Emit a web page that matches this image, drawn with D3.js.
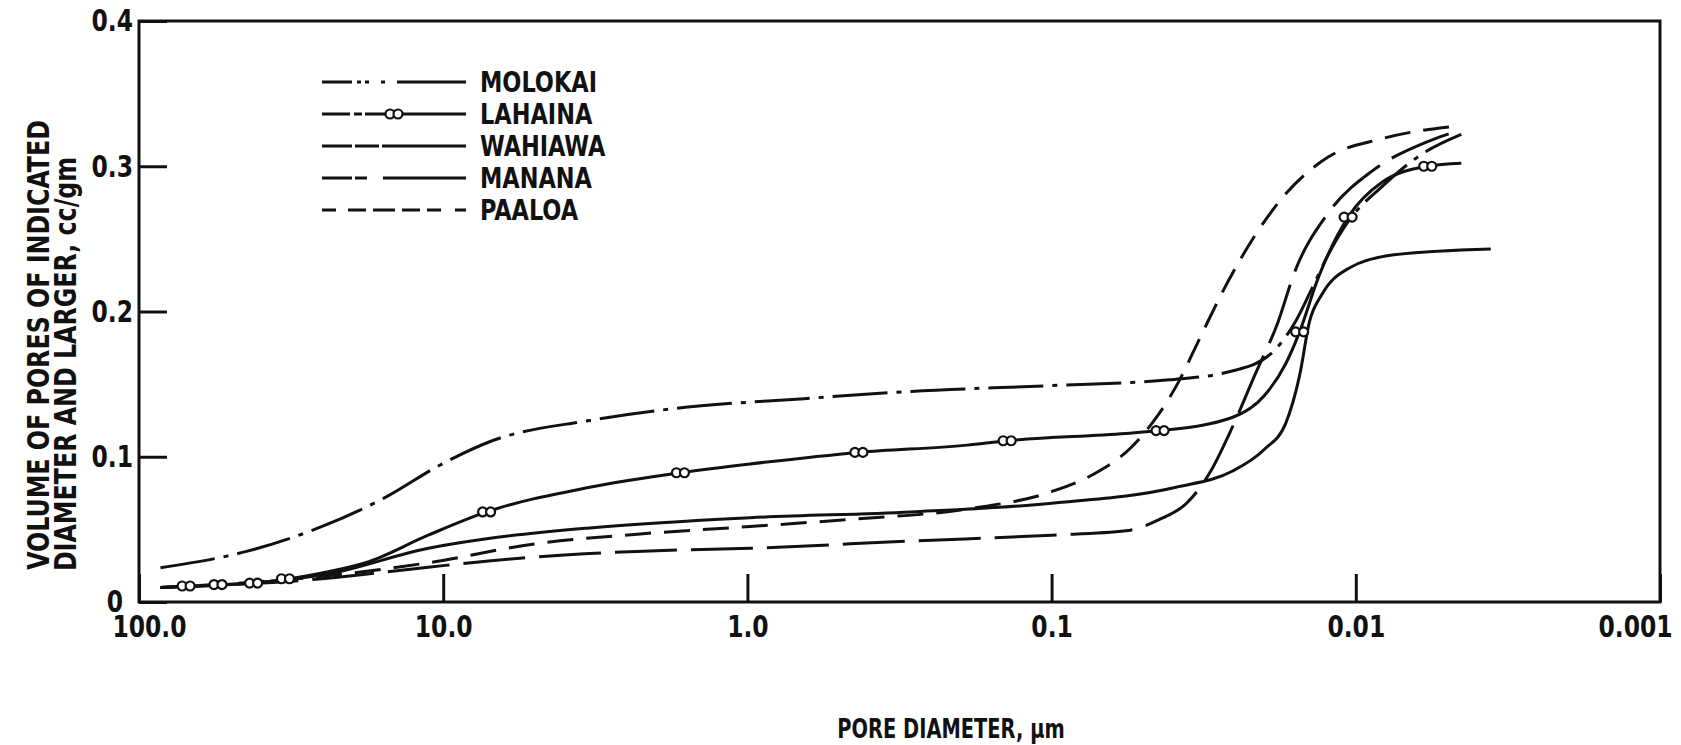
<!DOCTYPE html>
<html>
<head>
<meta charset="utf-8">
<script src="https://cdn.jsdelivr.net/npm/d3@7"></script>
<style>
  body { margin: 0; background: #fff; }
  text { font-family: "DejaVu Sans Condensed", "DejaVu Sans", sans-serif; font-weight: bold; fill: #111; }
</style>
</head>
<body>
<div id="chart"></div>
<script>
// pore diameter (um) vs cumulative pore volume (cc/gm)
const molokai = [[85,0.0236],[44,0.035],[25,0.052],[15.5,0.072],[10.3,0.094],[6.9,0.111],[3.3,0.125],[1.6,0.134],[0.65,0.140],[0.29,0.145],[0.1,0.149],[0.041,0.153],[0.0255,0.159],[0.019,0.171],[0.0158,0.193],[0.014,0.215],[0.0124,0.238],[0.0105,0.263],[0.0082,0.286],[0.006,0.309],[0.0045,0.322]]
const lahaina = [[85,0.010],[38,0.014],[25,0.020],[18,0.027],[11.2,0.046],[7.2,0.062],[3.3,0.079],[1.66,0.089],[0.98,0.095],[0.43,0.103],[0.19,0.108],[0.14,0.111],[0.057,0.116],[0.044,0.118],[0.0255,0.127],[0.020,0.142],[0.017,0.164],[0.0153,0.186],[0.0133,0.223],[0.0106,0.265],[0.0082,0.289],[0.0058,0.300],[0.0045,0.302]]
const lahainaMarks = [[70,0.011],[55,0.012],[42,0.013],[33,0.016],[7.2,0.062],[1.66,0.089],[0.43,0.103],[0.14,0.111],[0.044,0.118],[0.0153,0.186],[0.0106,0.265],[0.0058,0.300]]
const wahiawa = [[85,0.010],[25,0.0185],[11.2,0.037],[7.2,0.0435],[3.3,0.051],[0.98,0.058],[0.29,0.062],[0.1,0.068],[0.039,0.079],[0.0255,0.090],[0.020,0.105],[0.017,0.123],[0.0153,0.156],[0.0142,0.193],[0.0129,0.212],[0.0105,0.230],[0.0075,0.239],[0.0036,0.243]]
const manana = [[85,0.010],[25,0.016],[11.2,0.024],[5,0.031],[2.2,0.035],[0.98,0.037],[0.29,0.042],[0.1,0.046],[0.057,0.049],[0.044,0.057],[0.036,0.068],[0.030,0.090],[0.0255,0.120],[0.0215,0.156],[0.018,0.193],[0.0159,0.227],[0.0124,0.267],[0.0088,0.297],[0.0058,0.317],[0.0045,0.325]]
const paaloa = [[85,0.010],[25,0.0177],[11.2,0.027],[5,0.040],[2.2,0.047],[0.98,0.052],[0.45,0.057],[0.19,0.064],[0.1,0.076],[0.07,0.090],[0.055,0.106],[0.046,0.125],[0.0386,0.150],[0.0325,0.182],[0.0275,0.213],[0.0215,0.252],[0.017,0.281],[0.0124,0.306],[0.0082,0.319],[0.0045,0.328]]

const seriesNames = ["MOLOKAI", "LAHAINA", "WAHIAWA", "MANANA", "PAALOA"]
const xTicks = [100, 10, 1, 0.1, 0.01, 0.001]
const xTickLabels = ["100.0", "10.0", "1.0", "0.1", "0.01", "0.001"]
const yTicks = [0, 0.1, 0.2, 0.3, 0.4]
const yTickLabels = ["0", "0.1", "0.2", "0.3", "0.4"]

const WIDTH = 1681
const HEIGHT = 745
const PLOT = { LEFT: 139, RIGHT: 1660, TOP: 21, BOTTOM: 602 }

const svg = d3.select("#chart").append("svg")
	.attr("width", WIDTH)
	.attr("height", HEIGHT)

// squeeze text horizontally, the original lettering is tall and narrow
function narrow(sel, k) {
	sel.each(function() {
		const w = this.getComputedTextLength()
		d3.select(this)
			.attr("textLength", w * k)
			.attr("lengthAdjust", "spacingAndGlyphs")
	})
}

// scales
const x = d3.scaleLog().domain([100, 0.001]).range([PLOT.LEFT, PLOT.RIGHT])
const y = d3.scaleLinear().domain([0, 0.4]).range([PLOT.BOTTOM, PLOT.TOP])

// frame
svg.append("rect")
	.attr("x", PLOT.LEFT)
	.attr("y", PLOT.TOP)
	.attr("width", PLOT.RIGHT - PLOT.LEFT)
	.attr("height", PLOT.BOTTOM - PLOT.TOP)
	.attr("fill", "none")
	.attr("stroke", "#111")
	.attr("stroke-width", 3)

// axes
const xAxis = svg.append("g")
	.attr("transform", `translate(0, ${PLOT.BOTTOM})`)
	.call(d3.axisBottom(x)
		.tickValues(xTicks)
		.tickSize(-28)
		.tickSizeOuter(0)
		.tickPadding(13)
		.tickFormat((d, i) => xTickLabels[i]))
xAxis.select(".domain").remove()
xAxis.selectAll("line").attr("stroke", "#111").attr("stroke-width", 3)
xAxis.selectAll("text").attr("font-size", "31px").attr("fill", "#111")
	.attr("dx", (d, i) => i === 0 ? 10 : (i === xTicks.length - 1 ? -25 : 0))
	.call(narrow, 0.84)

const yAxis = svg.append("g")
	.attr("transform", `translate(${PLOT.LEFT}, 0)`)
	.call(d3.axisLeft(y)
		.tickValues(yTicks)
		.tickSize(-28)
		.tickSizeOuter(0)
		.tickPadding(6)
		.tickFormat((d, i) => yTickLabels[i]))
yAxis.select(".domain").remove()
yAxis.selectAll("line").attr("stroke", "#111").attr("stroke-width", 3)
yAxis.selectAll("text").attr("font-size", "31px").attr("fill", "#111")
	.attr("dx", (d, i) => i === 0 ? -10 : 0)
	.call(narrow, 0.84)

// axis titles
svg.append("text")
	.attr("x", 951)
	.attr("y", 738)
	.attr("text-anchor", "middle")
	.attr("font-size", "27px")
	.text("PORE DIAMETER, \u03bcm")
	.call(narrow, 0.8)

svg.append("text")
	.attr("transform", "translate(49, 345) rotate(-90)")
	.attr("text-anchor", "middle")
	.attr("font-size", "30px")
	.text("VOLUME OF PORES OF INDICATED")
	.call(narrow, 0.88)
svg.append("text")
	.attr("transform", "translate(76, 364) rotate(-90)")
	.attr("text-anchor", "middle")
	.attr("font-size", "30px")
	.text("DIAMETER AND LARGER, cc/gm")
	.call(narrow, 0.88)

// curves
const line = d3.line()
	.x(d => x(d[0]))
	.y(d => y(d[1]))
	.curve(d3.curveMonotoneX)

const series = [
	{ name: "MOLOKAI", data: molokai, dash: "55,9,5,9" },
	{ name: "LAHAINA", data: lahaina, dash: null },
	{ name: "WAHIAWA", data: wahiawa, dash: null },
	{ name: "MANANA", data: manana, dash: "62,14" },
	{ name: "PAALOA", data: paaloa, dash: "26,13" }
]

svg.append("g").selectAll("path")
	.data(series)
	.join("path")
	.attr("d", d => line(d.data))
	.attr("fill", "none")
	.attr("stroke", "#111")
	.attr("stroke-width", 3)
	.attr("stroke-dasharray", d => d.dash)

// lahaina double-circle markers
const marks = svg.append("g").selectAll("g")
	.data(lahainaMarks)
	.join("g")
	.attr("transform", d => `translate(${x(d[0])}, ${y(d[1])})`)
marks.selectAll("circle")
	.data([-4, 4])
	.join("circle")
	.attr("cx", d => d)
	.attr("r", 4.5)
	.attr("fill", "#fff")
	.attr("stroke", "#111")
	.attr("stroke-width", 2.2)

// legend
const legendDash = [
	"30,5,4,4,4,12,4,12,200",
	"28,4,8,3,200",
	"30,3,24,3,200",
	"30,3,12,16,200",
	"14,12,18,7,22,7,18,7,14"
]
const legend = svg.append("g")
	.selectAll("g")
	.data(seriesNames)
	.join("g")
	.attr("transform", (d, i) => `translate(322, ${82 + i * 32})`)
legend.append("line")
	.attr("x1", 0)
	.attr("x2", 144)
	.attr("stroke", "#111")
	.attr("stroke-width", 3)
	.attr("stroke-dasharray", (d, i) => legendDash[i])
legend.filter(d => d === "LAHAINA").selectAll("circle")
	.data([68, 76])
	.join("circle")
	.attr("cx", d => d)
	.attr("r", 4.5)
	.attr("fill", "#fff")
	.attr("stroke", "#111")
	.attr("stroke-width", 2.2)
legend.append("text")
	.attr("x", 158)
	.attr("dy", "0.36em")
	.attr("font-size", "29px")
	.text(d => d)
	.call(narrow, 0.86)
</script>
</body>
</html>
